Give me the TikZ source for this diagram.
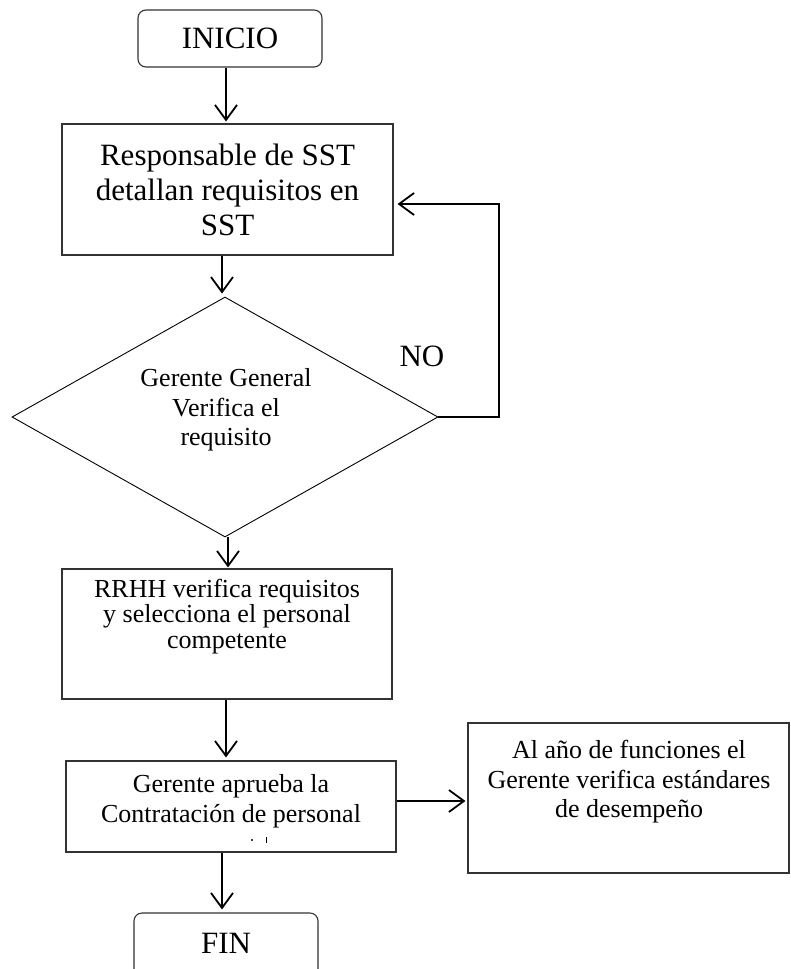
\documentclass[tikz,border=0pt]{standalone}
\usepackage{fontspec}
\setmainfont{Liberation Serif}
\usetikzlibrary{arrows.meta,shapes.geometric}
\begin{document}
\begin{tikzpicture}[x=1pt,y=-1pt,
  box/.style={draw=black!80, line width=1.1pt, inner sep=0pt, align=center},
  term/.style={box, rounded corners=8pt},
  big/.style={font=\fontsize{31}{35}\selectfont},
  small/.style={font=\fontsize{26}{29.5}\selectfont},
  tight/.style={font=\fontsize{26}{25.5}\selectfont},
  arr/.style={line width=1.8pt, -{Straight Barb[length=15pt,width=22pt,line width=1.8pt]}},
  lbl/.style={inner sep=0pt, align=center}]
\useasboundingbox (0,0) rectangle (790,969);
% nodes
\node[term,big,minimum width=184pt,minimum height=57pt] (ini) at (230,38.5) {INICIO};
\node[box,big,minimum width=331pt,minimum height=131pt] (resp) at (227.5,189.5) {Responsable de SST\\detallan requisitos en\\SST};
\node[draw, line width=0.9pt, diamond, minimum width=426pt, minimum height=240pt, inner sep=0pt] (dec) at (225,417) {};
\node[lbl,small] (dect) at (226,410) {Gerente General\\Verifica el\\requisito};
\node[lbl,big] (no) at (422,356) {NO};
\node[box,minimum width=330pt,minimum height=130pt] (rrhh) at (227,634) {};
\node[lbl,tight] (rrhht) at (227,616.5) {RRHH verifica requisitos\\y selecciona el personal\\competente};
\node[box,minimum width=330pt,minimum height=91pt] (ga) at (231,806.5) {};
\node[lbl,small] (gat) at (231,801) {Gerente aprueba la\\Contratación de personal};
\node[box,minimum width=321pt,minimum height=150pt] (eval) at (628.5,798) {};
\node[lbl,small] (evalt) at (629,782) {Al año de funciones el\\Gerente verifica estándares\\de desempeño};
\node[term,minimum width=184pt,minimum height=72pt] (fin) at (226,949) {};
\node[lbl,big] (fint) at (226,943) {FIN};
\coordinate (loopc) at (499,204);
% clipped text fragments
\fill (252,840) circle (1.2pt);
\draw[line width=1pt] (266,837) -- (266,843);
% connectors
\draw[arr, shorten >=2pt] ([xshift=-4pt]ini.south) -- ([xshift=-4pt]ini.south |- resp.north);
\draw[arr, shorten >=3pt] ([xshift=-5.5pt]resp.south) -- ([xshift=-5.5pt]resp.south |- dec.north);
\draw[arr, shorten >=1pt] ([xshift=3pt]dec.south) -- ([xshift=3pt]dec.south |- rrhh.north);
\draw[arr, shorten >=3pt] ([xshift=-1pt]rrhh.south) -- ([xshift=-1pt]rrhh.south |- ga.north);
\draw[arr, shorten >=3pt] ([xshift=-9pt]ga.south) -- ([xshift=-9pt]ga.south |- fin.north);
\draw[arr, shorten >=2pt] ([yshift=5.5pt]ga.east) -- ([yshift=5.5pt]ga.east -| eval.west);
\draw[arr, shorten >=4pt] (dec.east) -| (loopc) -- (resp.east |- loopc);
\end{tikzpicture}
\end{document}
